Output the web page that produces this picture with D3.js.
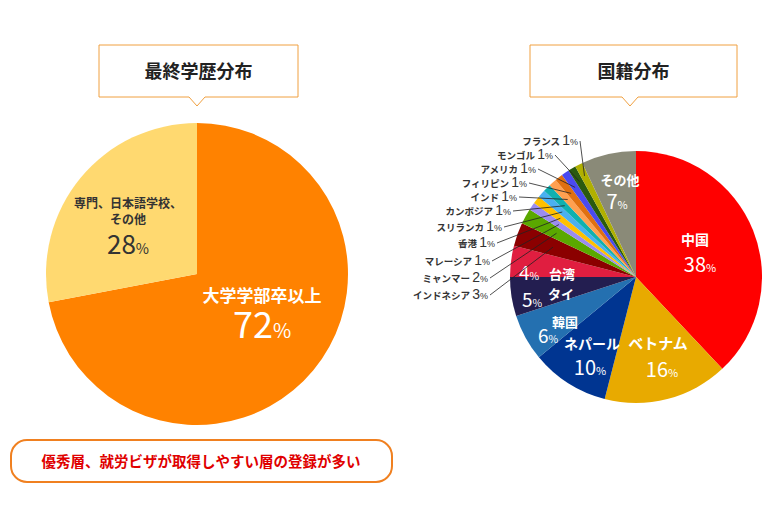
<!DOCTYPE html><html><head><meta charset="utf-8"><script src="https://cdn.jsdelivr.net/npm/d3@7"></script>
<style>body{margin:0;background:#fff}text{font-family:"Noto Sans CJK JP","Noto Sans",sans-serif}</style></head><body><svg id="c" width="762" height="522"></svg>
<script>
const eduCats=["大学学部卒以上","専門、日本語学校、その他"];
const eduVals=[72,28];
const eduColors=["#ff8200","#ffd970"];
const natCats=["中国","ベトナム","ネパール","韓国","タイ","台湾","インドネシア","ミャンマー","マレーシア","香港","スリランカ","カンボジア","インド","フィリピン","アメリカ","モンゴル","フランス","その他"];
const natVals=[38,16,10,6,5,4,3,2,1,1,1,1,1,1,1,1,1,7];
const natColors=["#ff0000","#e8aa00","#003591","#2470b0","#231e50","#e01e40","#8b0000","#5aa800","#9b8cf0","#ffc000","#4ab0f0","#10b0b0","#ffa050","#e07010","#4a4af0","#2a5a10","#b0b000","#8a8a78"];
const svg=d3.select("#c");
function titleBox(x,w,cx,t){
  svg.append("path").attr("d",`M${x},45H${x+w}V97H${cx+8}L${cx},106L${cx-8},97H${x}Z`).attr("fill","#fff").attr("stroke","#f0a040").attr("stroke-width",1);
  svg.append("text").attr("x",x+w/2).attr("y",78).attr("text-anchor","middle").attr("font-size",18).attr("font-weight","bold").attr("fill","#222").text(t);
}
titleBox(99,199,197,"最終学歴分布");
titleBox(530,207,630,"国籍分布");
function pct(g,x,y,num,fs,col){
  const t=g.append("text").attr("x",x).attr("y",y).attr("text-anchor","middle").attr("fill",col).attr("font-family","Arial,Liberation Sans,sans-serif");
  t.append("tspan").attr("font-size",fs).text(num);
  t.append("tspan").attr("font-size",fs*0.55).text("%");
}
const pie=d3.pie().sort(null).value(d=>d);
const L=svg.append("g").attr("transform","translate(197,274)");
const arcL=d3.arc().innerRadius(0).outerRadius(151);
L.selectAll("path").data(pie(eduVals)).join("path").attr("d",arcL).attr("fill",(d,i)=>eduColors[i]);
L.append("text").attr("x",65).attr("y",28).attr("text-anchor","middle").attr("fill","#fff").attr("font-size",17).attr("font-weight","bold").text(eduCats[0]);
pct(L,65,64,eduVals[0],36,"#fff");
L.append("text").attr("x",-69).attr("y",-66).attr("text-anchor","middle").attr("fill","#333").attr("font-size",12).attr("font-weight","bold").text("専門、日本語学校、");
L.append("text").attr("x",-69).attr("y",-50).attr("text-anchor","middle").attr("fill","#333").attr("font-size",12).attr("font-weight","bold").text("その他");
pct(L,-69,-20,eduVals[1],26,"#333");
svg.append("rect").attr("x",11).attr("y",440).attr("width",381).attr("height",42).attr("rx",16).attr("fill","#fff").attr("stroke","#f08020").attr("stroke-width",2);
svg.append("text").attr("x",201).attr("y",467).attr("text-anchor","middle").attr("fill","#e00000").attr("font-size",14.5).attr("font-weight","bold").text("優秀層、就労ビザが取得しやすい層の登録が多い");
const cx=636,cy=277,R=126;
const Rg=svg.append("g").attr("transform",`translate(${cx},${cy})`);
const arcR=d3.arc().innerRadius(0).outerRadius(R);
const pr=pie(natVals);
Rg.selectAll("path").data(pr).join("path").attr("d",arcR).attr("fill",(d,i)=>natColors[i]);
const inLab=[[0,59,-32,64,-5,14,20],[1,22,72,26,100,15,20],[2,-44,72,-46,98,14,20],[3,-71,50,-88,66,13,19],[4,-75,22,-104,30,13,19],[5,-74,2,-107,3,13,19],[17,-16,-92,-19,-68,13,20]];
inLab.forEach(([i,nx,ny,px,py,nf,pf])=>{
  Rg.append("text").attr("x",nx).attr("y",ny).attr("text-anchor","middle").attr("fill","#fff").attr("font-size",nf).attr("font-weight","bold").text(natCats[i]);
  pct(Rg,px,py,natVals[i],pf,"#fff");
});
const outIdx=[16,15,14,13,12,11,10,9,8,7,6];
const outY=[145,159,173,187,201,215,231,247,265,282,299];
const outX=[582,557,540,531,521,515,506,499,494,492,492];
outIdx.forEach((i,k)=>{
  const d=pr[i];const a=(d.startAngle+d.endAngle)/2;const rr=R*(0.9-0.02*k);
  const tx=cx+rr*Math.sin(a),ty=cy-rr*Math.cos(a);
  svg.append("line").attr("x1",outX[k]-2).attr("y1",outY[k]-4).attr("x2",tx).attr("y2",ty).attr("stroke","#222").attr("stroke-width",0.8);
  const t=svg.append("text").attr("x",outX[k]-4).attr("y",outY[k]).attr("text-anchor","end").attr("fill","#333");
  t.append("tspan").attr("font-size",9.5).attr("font-weight","bold").text(natCats[i]+" ");
  t.append("tspan").attr("font-size",14).attr("font-family","Arial,sans-serif").text(natVals[i]);
  t.append("tspan").attr("font-size",9).attr("font-family","Arial,sans-serif").text("%");
});
</script></body></html>
